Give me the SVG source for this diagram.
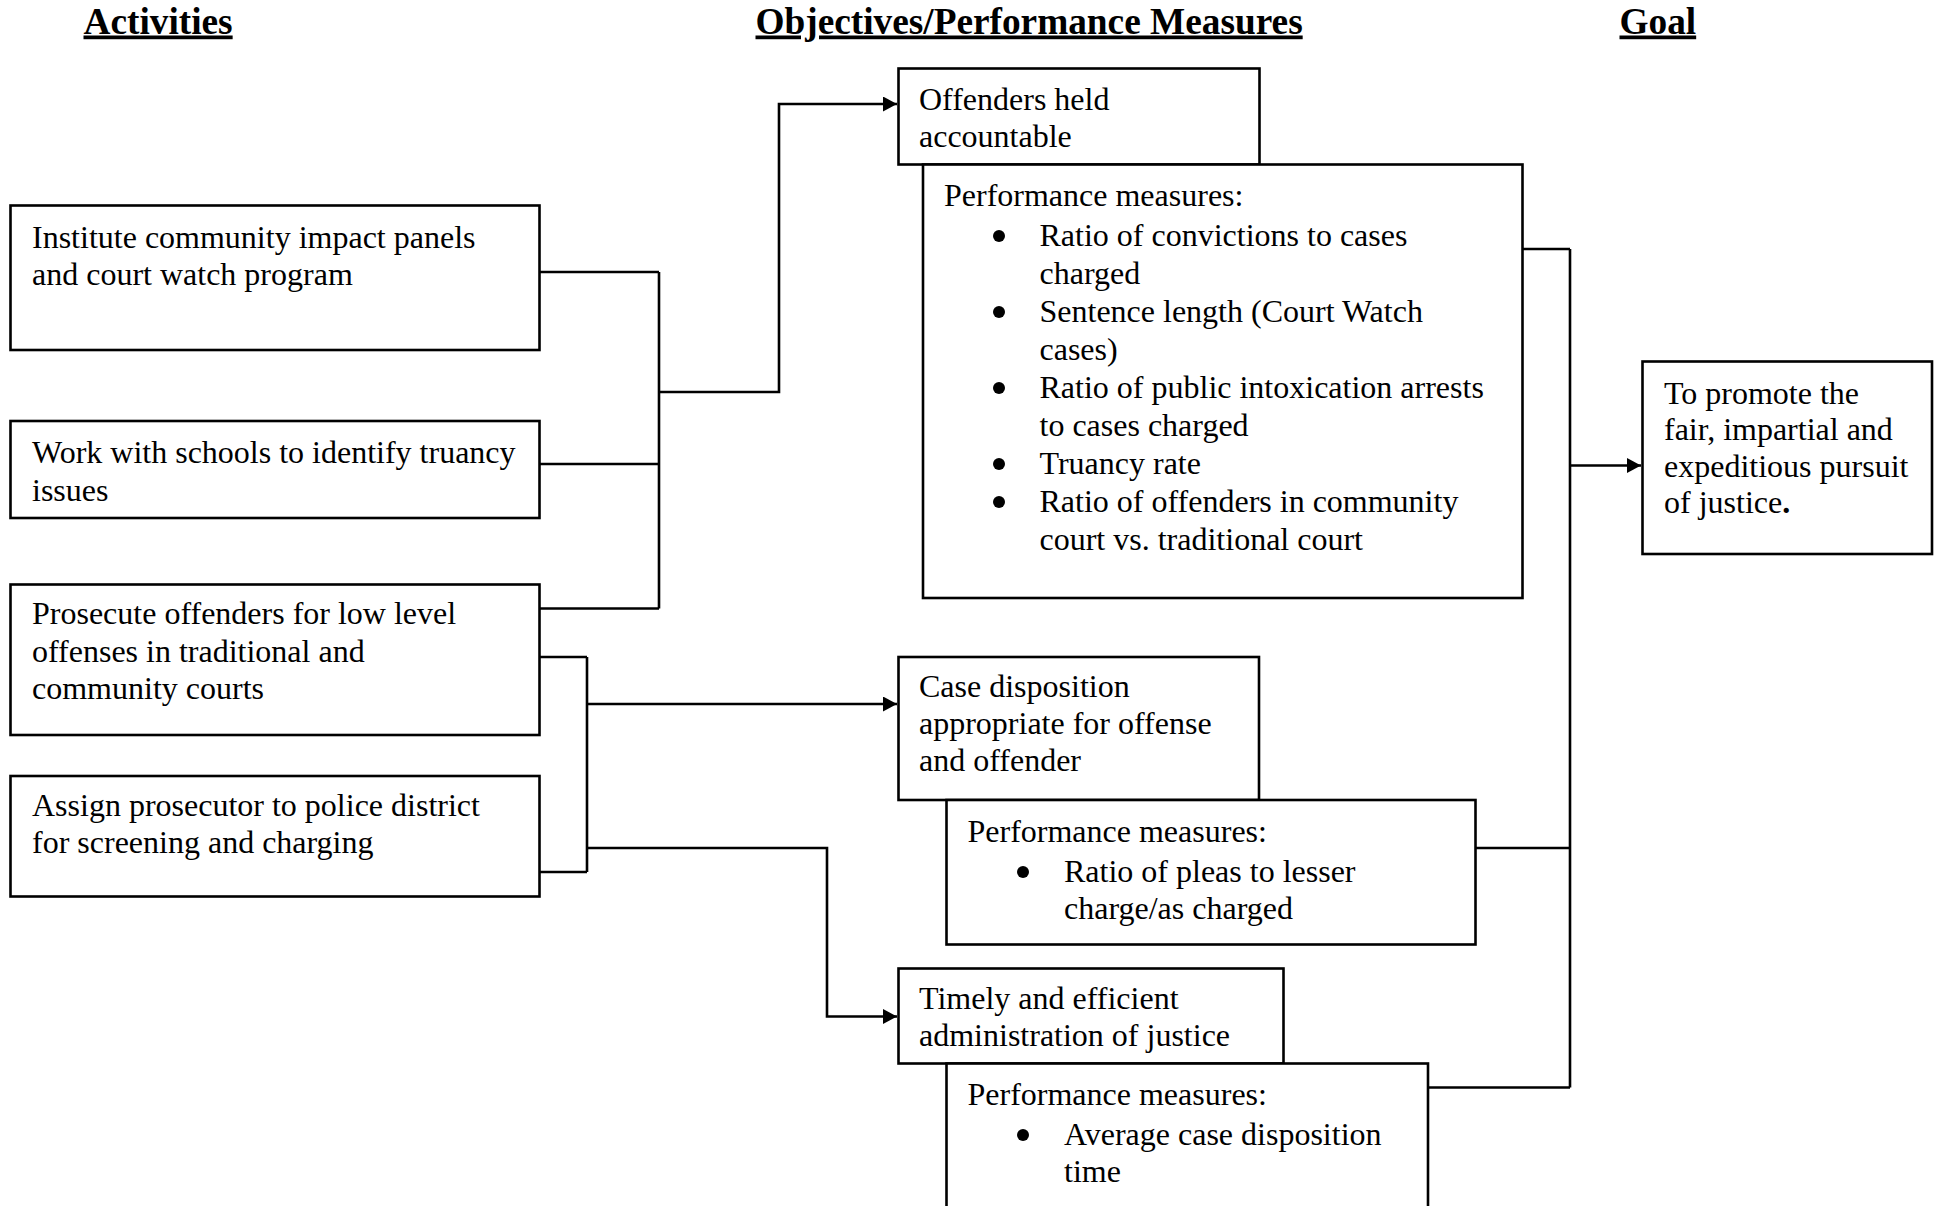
<svg xmlns="http://www.w3.org/2000/svg" width="1940" height="1206" viewBox="0 0 1940 1206">
<defs>
<style>
.t{font-family:"Liberation Serif","Times New Roman",serif;font-size:32px;fill:#000}
.h{font-family:"Liberation Serif","Times New Roman",serif;font-size:37.3px;font-weight:bold;fill:#000;text-decoration:underline}
.b{fill:#fff;stroke:#000;stroke-width:2.6}
.c{fill:none;stroke:#000;stroke-width:2.6}
.d{fill:#000}
</style>
<marker id="ah" markerUnits="userSpaceOnUse" markerWidth="16" markerHeight="16" refX="14" refY="7.5" orient="auto">
<path d="M0,0 L14,7.5 L0,15 z" fill="#000"/>
</marker>
</defs>
<rect width="1940" height="1206" fill="#fff"/>

<g id="titles">
<text class="h" x="83.5" y="33.5">Activities</text>
<text class="h" x="755.5" y="33.5">Objectives/Performance Measures</text>
<text class="h" x="1619.5" y="33.5">Goal</text>
</g>

<g id="connectors">
<path class="c" d="M539,272 H659"/>
<path class="c" d="M539,464 H659"/>
<path class="c" d="M539,608.5 H659"/>
<path class="c" d="M659,272 V608.5"/>
<path class="c" d="M659,392 H779 V104 H897" marker-end="url(#ah)"/>
<path class="c" d="M539,657 H587"/>
<path class="c" d="M539,872 H587"/>
<path class="c" d="M587,657 V872"/>
<path class="c" d="M587,704 H897" marker-end="url(#ah)"/>
<path class="c" d="M587,848 H827 V1016.5 H897" marker-end="url(#ah)"/>
<path class="c" d="M1522.5,249 H1570"/>
<path class="c" d="M1475.5,848 H1570"/>
<path class="c" d="M1428,1087.5 H1570"/>
<path class="c" d="M1570,249 V1087.5"/>
<path class="c" d="M1570,465.5 H1641" marker-end="url(#ah)"/>
</g>

<g id="act1">
<rect class="b" x="10.5" y="205.5" width="529" height="144.5"/>
<text class="t" x="32" y="247.5">Institute community impact panels</text>
<text class="t" x="32" y="285">and court watch program</text>
</g>
<g id="act2">
<rect class="b" x="10.5" y="421" width="529" height="97"/>
<text class="t" x="32" y="463">Work with schools to identify truancy</text>
<text class="t" x="32" y="500.5">issues</text>
</g>
<g id="act3">
<rect class="b" x="10.5" y="584.5" width="529" height="150.5"/>
<text class="t" x="32" y="624">Prosecute offenders for low level</text>
<text class="t" x="32" y="661.5">offenses in traditional and</text>
<text class="t" x="32" y="699">community courts</text>
</g>
<g id="act4">
<rect class="b" x="10.5" y="776" width="529" height="120.5"/>
<text class="t" x="32" y="816">Assign prosecutor to police district</text>
<text class="t" x="32" y="853">for screening and charging</text>
</g>

<g id="obj1">
<rect class="b" x="898.5" y="68.5" width="361" height="96"/>
<text class="t" x="919" y="110">Offenders held</text>
<text class="t" x="919" y="147">accountable</text>
</g>
<g id="pm1">
<rect class="b" x="923" y="164.5" width="599.5" height="433.5"/>
<text class="t" x="944" y="205.5">Performance measures:</text>
<circle class="d" cx="999" cy="236" r="6"/>
<text class="t" x="1039.5" y="245.5">Ratio of convictions to cases</text>
<text class="t" x="1039.5" y="283.5">charged</text>
<circle class="d" cx="999" cy="312" r="6"/>
<text class="t" x="1039.5" y="321.5">Sentence length (Court Watch</text>
<text class="t" x="1039.5" y="359.5">cases)</text>
<circle class="d" cx="999" cy="388" r="6"/>
<text class="t" x="1039.5" y="397.5">Ratio of public intoxication arrests</text>
<text class="t" x="1039.5" y="435.5">to cases charged</text>
<circle class="d" cx="999" cy="464" r="6"/>
<text class="t" x="1039.5" y="473.5">Truancy rate</text>
<circle class="d" cx="999" cy="502" r="6"/>
<text class="t" x="1039.5" y="511.5">Ratio of offenders in community</text>
<text class="t" x="1039.5" y="549.5">court vs. traditional court</text>
</g>

<g id="obj2">
<rect class="b" x="898.5" y="657" width="360.5" height="143"/>
<text class="t" x="919" y="696.5">Case disposition</text>
<text class="t" x="919" y="733.5">appropriate for offense</text>
<text class="t" x="919" y="771">and offender</text>
</g>
<g id="pm2">
<rect class="b" x="946.5" y="800" width="529" height="144.5"/>
<text class="t" x="967.5" y="841.5">Performance measures:</text>
<circle class="d" cx="1023" cy="872" r="6"/>
<text class="t" x="1064" y="881.5">Ratio of pleas to lesser</text>
<text class="t" x="1064" y="918.5">charge/as charged</text>
</g>

<g id="obj3">
<rect class="b" x="898.5" y="968.5" width="385" height="95"/>
<text class="t" x="919" y="1008.5">Timely and efficient</text>
<text class="t" x="919" y="1045.5">administration of justice</text>
</g>
<g id="pm3">
<rect class="b" x="946.5" y="1063.5" width="481.5" height="170"/>
<text class="t" x="967.5" y="1105">Performance measures:</text>
<circle class="d" cx="1023" cy="1135" r="6"/>
<text class="t" x="1064" y="1144.5">Average case disposition</text>
<text class="t" x="1064" y="1181.5">time</text>
</g>

<g id="goal">
<rect class="b" x="1642.5" y="361.5" width="289.5" height="192.5"/>
<text class="t" x="1664" y="403.5">To promote the</text>
<text class="t" x="1664" y="440">fair, impartial and</text>
<text class="t" x="1664" y="476.5">expeditious pursuit</text>
<text class="t" x="1664" y="513">of justice<tspan font-weight="bold">.</tspan></text>
</g>
</svg>
